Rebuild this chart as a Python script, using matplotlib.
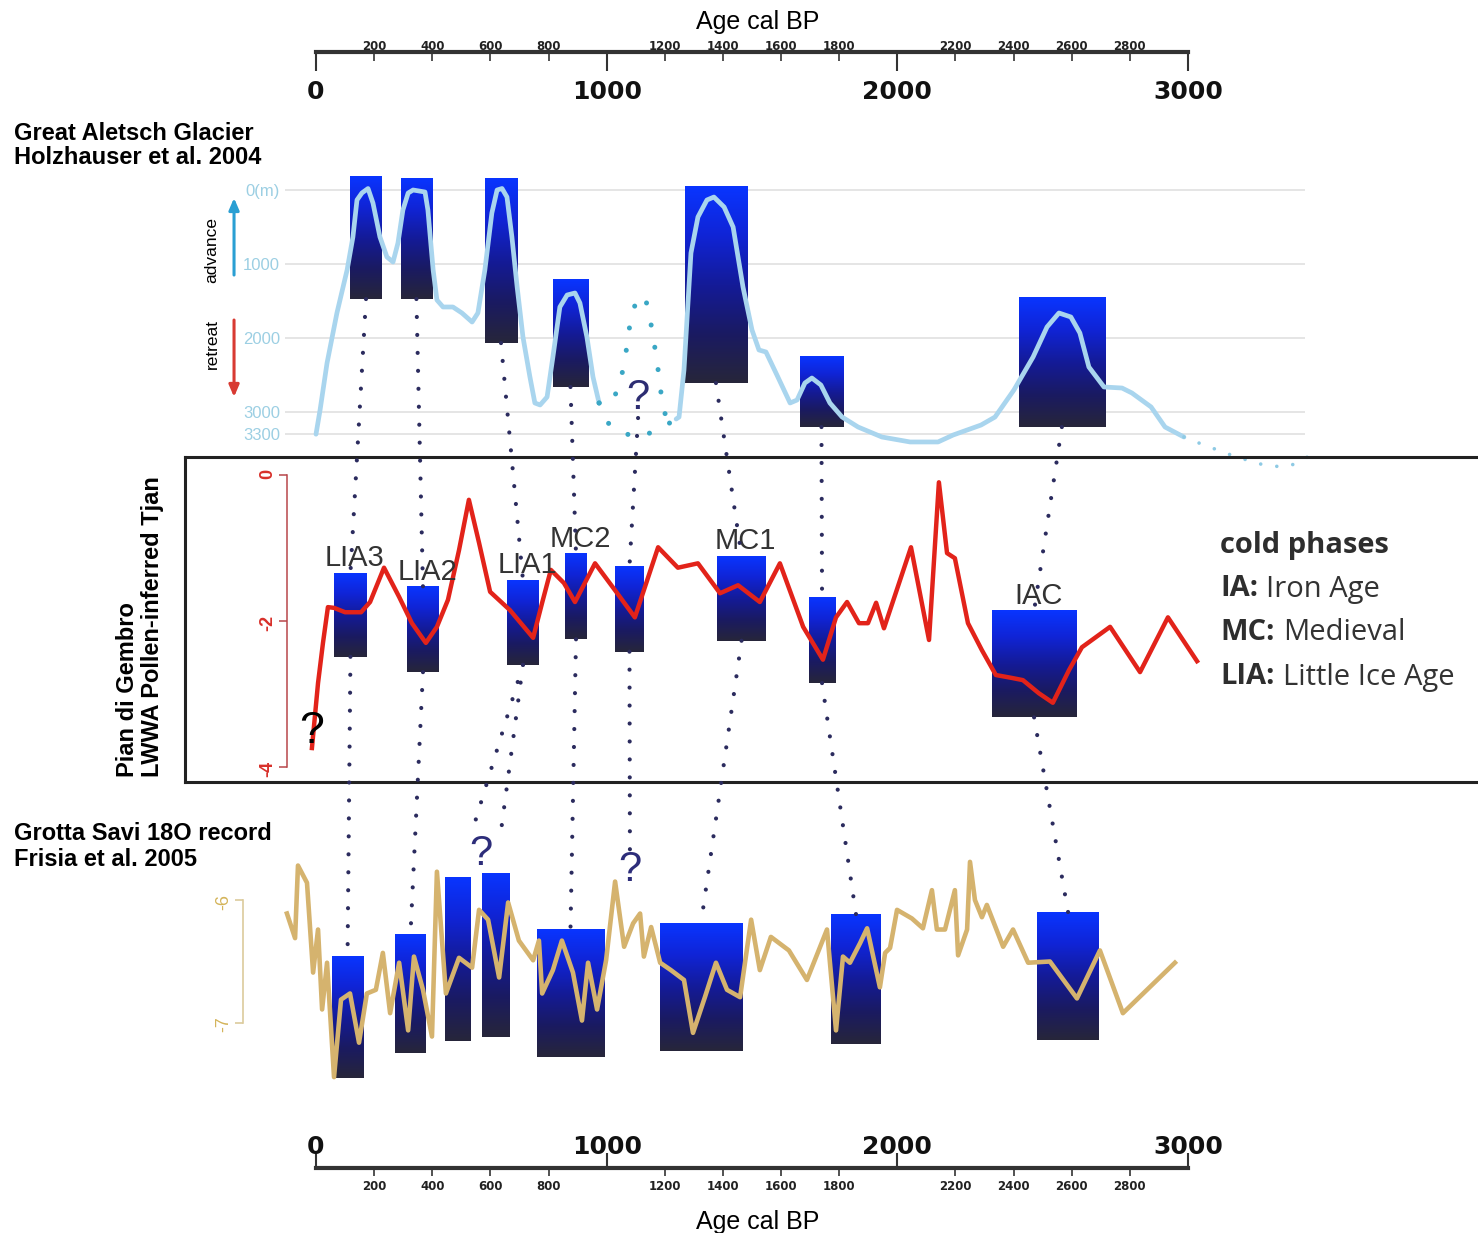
import numpy as np
import matplotlib.pyplot as plt
from matplotlib.colors import LinearSegmentedColormap
from matplotlib.patches import ConnectionPatch

plt.rcParams['font.family'] = ['Liberation Sans', 'DejaVu Sans']

# ---------------------------------------------------------------- data
# Great Aletsch Glacier length change (m, 0 = maximum extent)
aletsch_age = [0, 14, 38, 72, 107, 127, 141, 158, 179, 196, 220, 244, 265, 282, 299, 317, 334, 375,
               385, 403, 416, 437, 471, 502, 537, 557, 581, 605, 623, 640, 657, 674, 692, 712, 736,
               753, 771, 795, 815, 839, 864, 891, 908, 932, 953, 974]
aletsch_len = [3300, 2973, 2338, 1662, 1081, 635, 135, 40, -20, 176, 635, 905, 973, 716, 270, 41, 0, 27,
               270, 1081, 1486, 1581, 1581, 1662, 1784, 1662, 1081, 311, 0, -20, 95, 635, 1311, 1986, 2527,
               2878, 2905, 2797, 2257, 1581, 1419, 1392, 1527, 1986, 2527, 2878]
aletsch_age_b = [1239, 1249, 1266, 1290, 1314, 1345, 1369, 1404, 1435, 1469, 1500, 1524, 1548, 1589,
                 1631, 1655, 1682, 1706, 1737, 1768, 1810, 1865, 1947, 2044, 2140, 2192, 2288, 2336,
                 2401, 2467, 2515, 2556, 2597, 2628, 2659, 2711, 2773, 2807, 2873, 2921, 2986]
aletsch_len_b = [3095, 3068, 2432, 851, 365, 135, 95, 230, 500, 1311, 1892, 2162, 2189, 2527,
                 2878, 2838, 2608, 2541, 2635, 2878, 3068, 3203, 3338, 3405, 3405, 3311, 3176, 3068,
                 2703, 2257, 1851, 1662, 1716, 1932, 2392, 2662, 2676, 2743, 2932, 3203, 3338]
# uncertain stretches (dotted)
gap_up_age = [974, 1018, 1046, 1063, 1073, 1084, 1108, 1135, 1153, 1166, 1177, 1187, 1197, 1239]
gap_up_len = [2878, 2878, 2608, 2297, 2000, 1716, 1432, 1486, 1824, 2135, 2432, 2743, 3014, 3095]
gap_low_age = [974, 1005, 1053, 1111, 1177, 1239]
gap_low_len = [2878, 3149, 3284, 3338, 3243, 3095]
tail_age = [2986, 3028, 3083, 3148, 3203, 3261, 3327, 3382, 3430]
tail_len = [3338, 3405, 3486, 3581, 3649, 3716, 3743, 3689, 3554]

aletsch_bar_start = [117, 292, 581, 815, 1269, 1665, 2418]
aletsch_bar_end = [227, 399, 692, 936, 1483, 1813, 2714]
aletsch_bar_top = [-176, -149, -149, 1216, -41, 2257, 1459]
aletsch_bar_base = [1473, 1473, 2068, 2662, 2608, 3203, 3203]

# Pian di Gembro pollen-inferred January temperature anomaly
pollen_age = [-14, 7, 24, 41, 62, 100, 155, 186, 234, 286, 330, 378, 416, 454, 492, 526, 561, 599,
              667, 747, 778, 808, 853, 891, 960, 1029, 1097, 1177, 1245, 1314, 1390, 1452, 1527,
              1596, 1676, 1744, 1789, 1827, 1868, 1899, 1927, 1954, 2006, 2047, 2109, 2143, 2171,
              2198, 2243, 2291, 2339, 2394, 2432, 2487, 2535, 2591, 2635, 2732, 2835, 2931, 3031]
pollen_tjan = [-3.74, -2.85, -2.30, -1.81, -1.82, -1.88, -1.88, -1.74, -1.27, -1.67, -2.03, -2.30,
               -2.08, -1.71, -1.03, -0.34, -0.93, -1.60, -1.85, -2.23, -1.75, -1.30, -1.48, -1.74,
               -1.21, -1.58, -1.95, -0.99, -1.27, -1.21, -1.62, -1.51, -1.74, -1.21, -2.08, -2.53,
               -1.95, -1.74, -2.03, -2.03, -1.75, -2.10, -1.48, -0.99, -2.26, -0.10, -1.07, -1.14,
               -2.03, -2.40, -2.74, -2.78, -2.81, -2.99, -3.12, -2.67, -2.36, -2.08, -2.70, -1.95,
               -2.55]

pollen_phase = ['LIA3', 'LIA2', 'LIA1', 'MC2', '', 'MC1', '', 'IAC']
pollen_bar_start = [62, 313, 657, 857, 1029, 1380, 1696, 2326]
pollen_bar_end = [175, 423, 767, 932, 1128, 1548, 1786, 2615]
pollen_bar_top = [-1.34, -1.53, -1.44, -1.08, -1.25, -1.11, -1.68, -1.86]
pollen_bar_base = [-2.49, -2.70, -2.60, -2.25, -2.42, -2.27, -2.85, -3.32]

# Grotta Savi speleothem d18O
savi_age = [-100, -72, -62, -31, -10, 7, 21, 38, 62, 86, 117, 148, 175, 206, 230, 255, 286, 317,
            337, 368, 399, 416, 447, 492, 537, 561, 592, 630, 661, 698, 747, 767, 778, 815, 846,
            884, 915, 936, 967, 998, 1029, 1060, 1091, 1115, 1128, 1153, 1184, 1221, 1266, 1297,
            1338, 1376, 1414, 1459, 1497, 1527, 1565, 1627, 1689, 1758, 1789, 1813, 1837, 1872,
            1896, 1940, 1958, 1975, 1999, 2050, 2088, 2119, 2136, 2164, 2198, 2209, 2240, 2250,
            2267, 2291, 2308, 2364, 2398, 2450, 2525, 2618, 2697, 2776, 2955]
savi_d18o = [-6.11, -6.31, -5.72, -5.86, -6.59, -6.24, -6.89, -6.51, -7.44, -6.81, -6.76, -7.16,
             -6.76, -6.73, -6.43, -6.92, -6.51, -7.06, -6.46, -6.73, -7.11, -5.77, -6.76, -6.47,
             -6.55, -6.08, -6.16, -6.63, -6.02, -6.33, -6.49, -6.33, -6.76, -6.57, -6.33, -6.59,
             -6.98, -6.51, -6.89, -6.49, -5.85, -6.38, -6.19, -6.11, -6.46, -6.22, -6.51, -6.57,
             -6.65, -7.08, -6.79, -6.51, -6.73, -6.79, -6.16, -6.57, -6.30, -6.41, -6.65, -6.24,
             -7.06, -6.46, -6.51, -6.35, -6.23, -6.71, -6.43, -6.39, -6.08, -6.15, -6.23, -5.92,
             -6.24, -6.24, -5.92, -6.45, -6.24, -5.69, -6.00, -6.14, -6.04, -6.38, -6.24, -6.51,
             -6.50, -6.80, -6.41, -6.92, -6.51]

savi_bar_start = [55, 272, 444, 571, 760, 1183, 1772, 2481]
savi_bar_end = [162, 378, 533, 664, 991, 1466, 1944, 2694]
savi_bar_top = [-6.46, -6.28, -5.82, -5.78, -6.24, -6.19, -6.12, -6.10]
savi_bar_base = [-7.45, -7.24, -7.15, -7.11, -7.28, -7.23, -7.17, -7.14]

# correlations between cold phases (bar indices)
aletsch_to_pollen = [(0, 0), (1, 1), (2, 2), (3, 3), (4, 5), (5, 6), (6, 7)]
pollen_to_savi = [(0, 0), (1, 1), (3, 4), (5, 5), (6, 6), (7, 7)]
pollen_to_savi_open = [(2, 2), (2, 3)]

# uncertain points marked with "?"
q_aletsch = (1108, 3081)
q_pollen = (-14, -3.51)
q_savi = [(568, -5.46), (1080, -5.59)]

major_ticks = [0, 1000, 2000, 3000]
minor_ticks = [200, 400, 600, 800, 1200, 1400, 1600, 1800, 2200, 2400, 2600, 2800]

legend_abbr = ['IA:', 'MC:', 'LIA:']
legend_name = ['Iron Age', 'Medieval', 'Little Ice Age']

# ---------------------------------------------------------------- layout
W, H = 1478, 1233
X0, X3000 = 316, 1188          # pixel columns of 0 and 3000 cal BP
K = 3000 / (X3000 - X0)
XLIM = (-X0 * K, (W - X0) * K)

fig = plt.figure(figsize=(W / 100, H / 100), dpi=100)


def px_axes(top, bottom, left=0, right=W):
    return fig.add_axes([left / W, 1 - bottom / H, (right - left) / W, (bottom - top) / H])


def lim(top, bottom, p1, v1, p2, v2):
    s = (v2 - v1) / (p2 - p1)
    return v1 + (bottom - p1) * s, v1 + (top - p1) * s


def ftext(px, py, s, **kw):
    return fig.text(px / W, 1 - py / H, s, **kw)


bar_cmap = LinearSegmentedColormap.from_list(
    'cold', ['#0935ff', '#1024d6', '#141b98', '#1a1a62', '#27263a'])
grad = np.linspace(0, 1, 256).reshape(-1, 1)


def cold_bars(ax, start, end, top, base):
    for x0, x1, t, b in zip(start, end, top, base):
        ax.imshow(grad, cmap=bar_cmap, aspect='auto', origin='upper',
                  extent=(x0, x1, b, t), interpolation='bilinear', zorder=2)


DOTS = dict(linestyle=(0, (0.01, 4.5)), dash_capstyle='round')
LINK = '#2b2b5e'

# ---------------------------------------------------------------- Aletsch
ax1 = px_axes(165, 470)
ax1.patch.set_visible(False)
for s in ax1.spines.values():
    s.set_visible(False)
ax1.set_xticks([])
ax1.spines['left'].set_position(('data', -114))
ax1.set_yticks([0, 1000, 2000, 3000, 3300], ['0(m)', '1000', '2000', '3000', '3300'])
ax1.tick_params(axis='y', length=0, pad=2, labelsize=12, labelcolor='#9ccfe3')
ax1.hlines([0, 1000, 2000, 3000, 3300], -107, 3403, color='#e3e3e3', lw=1.3, zorder=0)

cold_bars(ax1, aletsch_bar_start, aletsch_bar_end, aletsch_bar_top, aletsch_bar_base)
ax1.plot(aletsch_age, aletsch_len, color='#a9d5ee', lw=3.4, zorder=3, solid_capstyle='round')
ax1.plot(aletsch_age_b, aletsch_len_b, color='#a9d5ee', lw=3.4, zorder=3, solid_capstyle='round')
ax1.plot(gap_up_age, gap_up_len, color='#3aa7c5', lw=3.6, zorder=3, **DOTS)
ax1.plot(gap_low_age, gap_low_len, color='#3aa7c5', lw=3.6, zorder=3, **DOTS)
ax1.plot(tail_age, tail_len, color='#8ecae4', lw=2.6, zorder=3, **DOTS)
ax1.text(*q_aletsch, '?', ha='center', va='bottom', fontsize=30, color='#2d2d72', zorder=4)

ax1.annotate('', xy=(-282, 108), xytext=(-282, 1149),
             arrowprops=dict(arrowstyle='-|>,head_width=0.3,head_length=0.7', color='#2a9fd3',
                             lw=2.2, shrinkA=0, shrinkB=0))
ax1.annotate('', xy=(-282, 2797), xytext=(-282, 1757),
             arrowprops=dict(arrowstyle='-|>,head_width=0.3,head_length=0.7', color='#d83a32',
                             lw=2.2, shrinkA=0, shrinkB=0))
ax1.text(-358, 811, 'advance', rotation=90, ha='center', va='center', fontsize=12.5)
ax1.text(-358, 2081, 'retreat', rotation=90, ha='center', va='center', fontsize=12.5)
ax1.set_xlim(XLIM)
ax1.set_ylim(*lim(165, 470, 190, 0, 412, 3000))

# ---------------------------------------------------------------- Pian di Gembro
ax_box = px_axes(457, 782, left=185, right=1540)
ax_box.patch.set_visible(False)
ax_box.set_xticks([])
ax_box.set_yticks([])
for s in ax_box.spines.values():
    s.set_linewidth(2.2)
    s.set_color('#222222')

RED = '#d8302a'
ax2 = px_axes(457, 782)
ax2.patch.set_visible(False)
for name, s in ax2.spines.items():
    s.set_visible(name == 'left')
ax2.spines['left'].set_position(('data', -100))
ax2.spines['left'].set_bounds(-4, 0)
ax2.spines['left'].set_color('#b8474a')
ax2.spines['left'].set_linewidth(1.1)
ax2.set_xticks([])
ax2.set_yticks([0, -2, -4], ['0', '-2', '-4'], fontweight='bold')
ax2.tick_params(axis='y', color='#b8474a', labelcolor=RED, length=6, width=1.1, pad=2,
                labelsize=13, labelrotation=90)

cold_bars(ax2, pollen_bar_start, pollen_bar_end, pollen_bar_top, pollen_bar_base)
ax2.plot(pollen_age, pollen_tjan, color='#e2231a', lw=3.2, zorder=3)
for x0, x1, t, lab in zip(pollen_bar_start, pollen_bar_end, pollen_bar_top, pollen_phase):
    if lab:
        ax2.annotate(lab, xy=((x0 + x1) / 2, t), xytext=(3, 5), textcoords='offset points',
                     ha='center', va='baseline', fontsize=21, color='#333333', zorder=4)
ax2.text(*q_pollen, '?', ha='center', va='center', fontsize=32, color='black', zorder=4)
ax2.set_xlim(XLIM)
ax2.set_ylim(*lim(457, 782, 475, 0, 767, -4))

ftext(128, 777, 'Pian di Gembro', rotation=90, ha='center', va='bottom',
      fontsize=17, weight='bold')
ftext(153, 777, 'LWWA Pollen-inferred Tjan', rotation=90, ha='center', va='bottom',
      fontsize=17, weight='bold')

# legend of cold phases
ftext(1220, 546, 'cold phases', fontsize=21, weight='bold', family='Open Sans',
      color='#2e2e2e', va='center')
for i, (abbr, name) in enumerate(zip(legend_abbr, legend_name)):
    t = ftext(1220, 589 + 44 * i, abbr, fontsize=21, weight='bold', family='Open Sans',
              color='#2e2e2e', va='center')
    ax2.annotate(name, xy=(1, 0), xycoords=t, xytext=(6, 0), textcoords='offset points',
                 ha='left', va='bottom', fontsize=21, family='Open Sans', color='#333333')

# ---------------------------------------------------------------- Grotta Savi
TAN = '#d5b36e'
ax3 = px_axes(815, 1110)
ax3.patch.set_visible(False)
for name, s in ax3.spines.items():
    s.set_visible(name == 'left')
ax3.spines['left'].set_position(('data', -251))
ax3.spines['left'].set_bounds(-7, -6)
ax3.spines['left'].set_color('#dccb9c')
ax3.spines['left'].set_linewidth(1.2)
ax3.set_xticks([])
ax3.set_yticks([-6, -7], ['-6', '-7'])
ax3.tick_params(axis='y', color='#dccb9c', labelcolor='#d4b45a', length=6, width=1.2, pad=2,
                labelsize=13, labelrotation=90)

cold_bars(ax3, savi_bar_start, savi_bar_end, savi_bar_top, savi_bar_base)
ax3.plot(savi_age, savi_d18o, color=TAN, lw=3.3, zorder=3)
for q in q_savi:
    ax3.text(*q, '?', ha='center', va='top', fontsize=30, color='#2d2d7a', zorder=4)
ax3.set_xlim(XLIM)
ax3.set_ylim(*lim(815, 1110, 900, -6, 1023, -7))

ftext(14, 133, 'Great Aletsch Glacier', va='center', fontsize=17, weight='bold')
ftext(14, 158, 'Holzhauser et al. 2004', va='center', fontsize=17, weight='bold')
ftext(14, 834, 'Grotta Savi 18O record', va='center', fontsize=17, weight='bold')
ftext(14, 860, 'Frisia et al. 2005', va='center', fontsize=17, weight='bold')


# ---------------------------------------------------------------- dotted correlations
def link(axA, xyA, axB, xyB, shrink=0):
    con = ConnectionPatch(xyA=xyA, coordsA=axA.transData, xyB=xyB, coordsB=axB.transData,
                          arrowstyle='-', shrinkA=0, shrinkB=shrink, color=LINK, lw=3,
                          linestyle=(0, (0.01, 4.3)), capstyle='round', zorder=5)
    fig.add_artist(con)


def mid(start, end, i):
    return (start[i] + end[i]) / 2


for a, p in aletsch_to_pollen:
    link(ax1, (mid(aletsch_bar_start, aletsch_bar_end, a), aletsch_bar_base[a]),
         ax2, (mid(pollen_bar_start, pollen_bar_end, p), pollen_bar_top[p]))
link(ax1, q_aletsch, ax2, (mid(pollen_bar_start, pollen_bar_end, 4), pollen_bar_top[4]))

for p, s in pollen_to_savi:
    link(ax2, (mid(pollen_bar_start, pollen_bar_end, p), pollen_bar_base[p]),
         ax3, (mid(savi_bar_start, savi_bar_end, s), savi_bar_top[s]))
for p, s in pollen_to_savi_open:
    link(ax2, (mid(pollen_bar_start, pollen_bar_end, p), pollen_bar_base[p]),
         ax3, (mid(savi_bar_start, savi_bar_end, s), savi_bar_top[s]), shrink=34)
link(ax2, (mid(pollen_bar_start, pollen_bar_end, 4), pollen_bar_base[4]), ax3, q_savi[1])


# ---------------------------------------------------------------- age axes
def age_axis(top, bottom, major_up):
    ax = px_axes(top, bottom)
    ax.patch.set_visible(False)
    ax.set_xlim(XLIM)
    ax.set_ylim(0, 1)
    ax.set_yticks([])
    for name, s in ax.spines.items():
        s.set_visible(name == 'bottom')
    ax.spines['bottom'].set_bounds(0, 3000)
    ax.spines['bottom'].set_linewidth(3)
    ax.spines['bottom'].set_color('#333333')
    if major_up:
        ax.tick_params(which='major', top=True, bottom=False, labeltop=True, labelbottom=False,
                       direction='out', length=10, width=1.5, pad=-4, color='#333333')
        ax.tick_params(which='minor', top=False, bottom=True, labeltop=False, labelbottom=True,
                       direction='out', length=6, width=1.2, pad=3, color='#333333')
    else:
        ax.tick_params(which='major', top=False, bottom=True, labeltop=False, labelbottom=True,
                       direction='out', length=14, width=1.5, pad=6, color='#333333')
        ax.tick_params(which='minor', top=False, bottom=True, labeltop=True, labelbottom=False,
                       direction='out', length=6.5, width=1.2, pad=-8, color='#333333')
    ax.set_xticks(major_ticks, [str(t) for t in major_ticks], fontsize=18,
                  fontweight='bold', fontfamily='DejaVu Sans', color='#111111')
    ax.set_xticks(minor_ticks, [str(t) for t in minor_ticks], minor=True, fontsize=8.5,
                  fontweight='bold', fontfamily='DejaVu Sans', color='#222222')
    return ax


ax_top = age_axis(51, 52, major_up=False)
ax_top.annotate('Age cal BP', xy=(1500, 1), xycoords=('data', 'axes fraction'), xytext=(4, 21),
                textcoords='offset points', ha='center', va='center', fontsize=18)
ax_bot = age_axis(1167, 1168, major_up=True)
ax_bot.annotate('Age cal BP', xy=(1500, 0), xycoords=('data', 'axes fraction'), xytext=(4, -39),
                textcoords='offset points', ha='center', va='center', fontsize=18)

fig.savefig('out.png', dpi=100)
